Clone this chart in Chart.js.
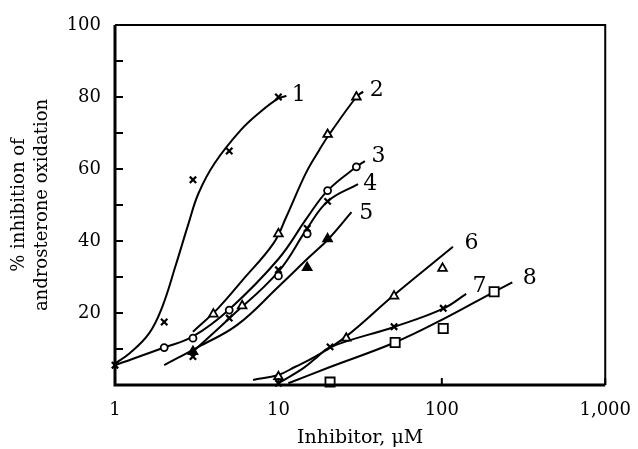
<!DOCTYPE html>
<html>
<head>
<meta charset="utf-8">
<script src="https://cdn.jsdelivr.net/npm/chart.js@4.4.1/dist/chart.umd.min.js"></script>
<style>
html,body{margin:0;padding:0;background:#fff;}
#wrap{width:638px;height:449px;}
</style>
</head>
<body>
<div id="wrap"><canvas id="c" width="638" height="449"></canvas></div>
<script>
// ---- Data (x = inhibitor µM, y = % inhibition) ----
const xTickValues = [1, 10, 100, 1000];
const xTickLabels = ['1', '10', '100', '1,000'];
const yTickLabels = ['20', '40', '60', '80', '100'];

// measured points
const pts1 = [[1,5.5],[2,17.5],[3,57],[5,65],[10,80]];                       // x
const pts2 = [[4,19.7],[6,22],[10,42],[20,69.6],[30,80]];                     // open triangle
const pts3 = [[2,10.4],[3,13],[5,20.8],[10,30.3],[15,42],[20,54],[30,60.6]]; // open circle
const pts4 = [[3,7.9],[5,18.6],[10,32],[15,43.5],[20,51]];                   // x
const pts5 = [[3,9.3],[15,32.6],[20,40.6]];                                  // filled triangle
const pts6 = [[10,2.3],[26,13],[51,24.7],[101,32.4]];                        // open triangle
const pts7 = [[10,0.5],[20.7,10.6],[51,16.2],[102,21.3]];                    // x
const pts8 = [[20.7,0.8],[51.8,11.8],[102,15.7],[209,25.9]];                 // square

// hand-drawn fitted curves (ending at the label dash)
const fit1 = [[1,6],[1.23,8.8],[1.62,14.4],[1.95,21.8],[2.34,32.9],[2.82,44.9],[3.24,53.2],[4.07,61.6],[5.88,70.8],[7.77,75.9],[10,79.6],[11.2,80.3]];
const fit2 = [[3,14.8],[4.27,21.3],[6,29],[9.35,39.4],[11.2,46.8],[14.7,58.8],[17.8,65.3],[20.4,69.5],[30,80],[33,81.5]];
const fit3 = [[1,5.5],[2,10.4],[3,13.5],[5,21],[10,35],[15,46.5],[20,54],[30,60.6],[33.8,62.2]];
const fit4 = [[3,9.3],[5,18.5],[10,31.5],[15,43.5],[20,51],[30.7,55.8]];
const fit5 = [[2,5.5],[3.24,10.6],[5.6,16.7],[10,27.3],[15.5,35.6],[20.4,40.7],[28,48]];
const fit6 = [[7,1.4],[10,2.8],[12.6,5],[17,8],[26,13.5],[51,25],[117,38.4]];
const fit7 = [[10,0.5],[14,4.5],[17,7.5],[20.7,10.5],[51.5,16.2],[102,21.2],[141,25.3]];
const fit8 = [[11.5,0.5],[20.7,5],[51.5,11.8],[102,18.3],[209,25.9],[270,28.5]];

// curve labels
const curveLabels = ['1','2','3','4','5','6','7','8'];
const labelX = [13.3, 40, 41, 36.5, 34.5, 152, 170, 345];
const labelY = [80.5, 82, 63.4, 55.8, 47.7, 39.4, 27.3, 29.7];

const xTitle = 'Inhibitor, \u03bcM';
const yTitle = ['% inhibition of', 'androsterone oxidation'];

// ---- Chart ----
const toXY = a => a.map(p => ({x: p[0], y: p[1]}));
const serif = 'DejaVu Serif';

function markers(data, style, radius, fill, bw) {
  return {type:'scatter', data: toXY(data), showLine:false, pointStyle: style,
    pointRadius: radius, pointHoverRadius: radius, pointBorderColor:'#000',
    pointBackgroundColor: fill, pointBorderWidth: bw || 1.8, clip:false, order:0};
}
function fitLine(data) {
  return {type:'scatter', data: toXY(data), showLine:true, pointRadius:0,
    borderColor:'#000', borderWidth:2, tension:0.4,
    fill:false, clip:false, order:1};
}

const decor = {
  id:'decor',
  afterDatasetsDraw(chart){
    const {ctx, chartArea:a, scales:{x, y}} = chart;
    ctx.save();
    ctx.strokeStyle = '#000';
    // inward ticks
    ctx.lineWidth = 2;
    y.ticks.forEach(t => {
      const py = y.getPixelForValue(t.value);
      ctx.beginPath(); ctx.moveTo(a.left, py); ctx.lineTo(a.left + 8, py); ctx.stroke();
    });
    x.ticks.forEach(t => {
      const px = x.getPixelForValue(t.value);
      ctx.beginPath(); ctx.moveTo(px, a.bottom); ctx.lineTo(px, a.bottom - 7); ctx.stroke();
    });
    // frame
    ctx.lineWidth = 2;
    ctx.beginPath(); ctx.moveTo(a.left, a.top); ctx.lineTo(a.right, a.top); ctx.lineTo(a.right, a.bottom); ctx.stroke();
    ctx.lineWidth = 3;
    ctx.beginPath(); ctx.moveTo(a.left, a.top); ctx.lineTo(a.left, a.bottom); ctx.lineTo(a.right, a.bottom); ctx.stroke();
    // curve labels
    ctx.fillStyle = '#000';
    ctx.font = '22px "' + serif + '"';
    ctx.textAlign = 'center';
    ctx.textBaseline = 'middle';
    curveLabels.forEach((s, i) => {
      ctx.fillText(s, x.getPixelForValue(labelX[i]), y.getPixelForValue(labelY[i]));
    });
    ctx.restore();
  }
};

new Chart(document.getElementById('c'), {
  type:'scatter',
  data:{datasets:[
    markers(pts1,'crossRot',4.5,'#000',2.2),
    markers(pts2,'triangle',5,'#fff'),
    markers(pts3,'circle',3.5,'#fff'),
    markers(pts4,'crossRot',4.5,'#000',2.2),
    markers(pts5,'triangle',5,'#000'),
    markers(pts6,'triangle',5,'#fff'),
    markers(pts7,'crossRot',4.5,'#000',2.2),
    markers(pts8,'rect',6.5,'#fff'),
    fitLine(fit1), fitLine(fit2), fitLine(fit3), fitLine(fit4),
    fitLine(fit5), fitLine(fit6), fitLine(fit7), fitLine(fit8)
  ]},
  options:{
    responsive:false, animation:false, events:[],
    layout:{padding:{left:0, right:23, top:25, bottom:0}},
    plugins:{legend:{display:false}, tooltip:{enabled:false}},
    scales:{
      x:{
        type:'logarithmic', min:1, max:1000,
        grid:{display:false}, border:{display:false},
        afterBuildTicks: s => { s.ticks = xTickValues.map(v => ({value:v})); },
        afterFit: s => { s.height = 64; },
        ticks:{color:'#000', padding:7, maxRotation:0, autoSkip:false,
          font:{family:serif, size:18},
          callback:(v) => { const i = xTickValues.indexOf(v); return i >= 0 ? xTickLabels[i] : ''; }},
        title:{display:true, text:xTitle, color:'#000', padding:{top:0,bottom:0},
          font:{family:serif, size:19, lineHeight:1.2}}
      },
      y:{
        min:0, max:100,
        grid:{display:false}, border:{display:false},
        afterFit: s => { s.width = 115; },
        ticks:{stepSize:10, color:'#000', padding:6, autoSkip:false,
          font:{family:serif, size:18},
          callback:(v) => { const s = String(v); return yTickLabels.includes(s) ? s : ''; }},
        title:{display:true, text:yTitle, color:'#000', padding:{top:7.5,bottom:0},
          font:{family:serif, size:18, lineHeight:1.3}}
      }
    }
  },
  plugins:[decor]
});
</script>
</body>
</html>
